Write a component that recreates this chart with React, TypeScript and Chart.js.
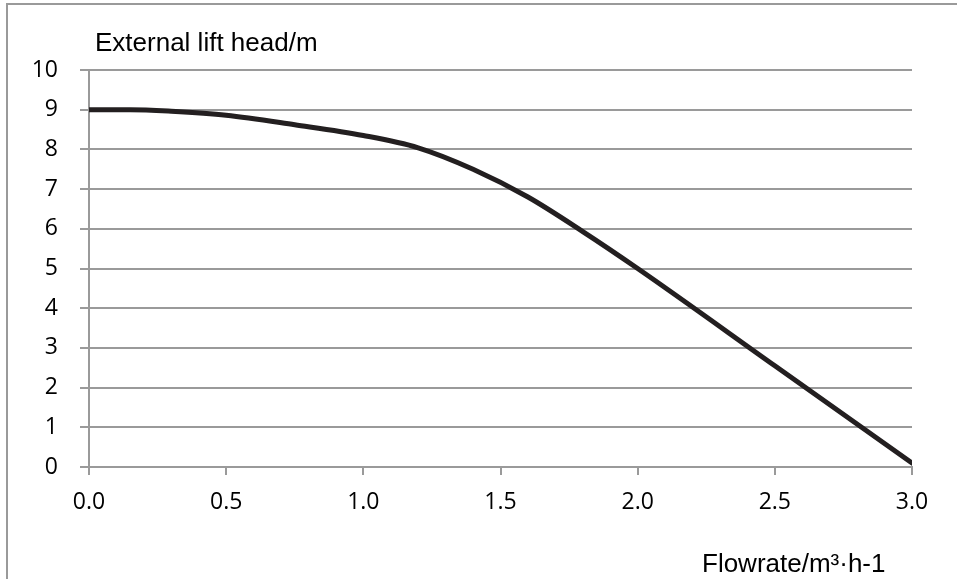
import React, { useEffect, useRef } from "react";
import { Chart, registerables } from "chart.js";

Chart.register(...registerables);

const flowrate = [0, 0.15, 0.3, 0.5, 0.75, 1.0, 1.2, 1.4, 1.6, 1.8, 2.0, 2.5, 3.0];
const liftHead = [9.0, 9.0, 8.96, 8.86, 8.62, 8.35, 8.04, 7.5, 6.8, 5.93, 5.0, 2.55, 0.1];
const yTitle = "External lift head/m";
const xTitle = "Flowrate/m³·h-1";

const GRID = "#9a9a9a";
const TICK_FONT = "'Open Sans', sans-serif";
const TITLE_FONT = "'Liberation Sans', Arial, sans-serif";

const framePlugin = {
  id: "frame",
  afterDraw(chart: any) {
    const ctx = chart.ctx;
    ctx.save();
    ctx.strokeStyle = GRID;
    ctx.lineWidth = 2;
    ctx.beginPath();
    ctx.moveTo(7, 579);
    ctx.lineTo(7, 4);
    ctx.lineTo(957, 4);
    ctx.stroke();
    ctx.fillStyle = "#000";
    ctx.textBaseline = "alphabetic";
    ctx.textAlign = "left";
    ctx.font = `26px ${TITLE_FONT}`;
    ctx.fillText(yTitle, 95, 51);
    ctx.fillText(xTitle, 702, 572);
    ctx.restore();
  },
};

export default function App() {
  const ref = useRef<HTMLCanvasElement>(null);
  useEffect(() => {
    if (!ref.current) return;
    const chart = new Chart(ref.current, {
      type: "line",
      data: {
        datasets: [
          {
            data: flowrate.map((x, i) => ({ x, y: liftHead[i] })),
            borderColor: "#231f20",
            borderWidth: 5,
            borderCapStyle: "round",
            pointRadius: 0,
            cubicInterpolationMode: "monotone",
            fill: false,
          },
        ],
      },
      options: {
        responsive: false,
        animation: false,
        devicePixelRatio: 1,
        layout: { padding: { left: 0, top: 70, right: 45, bottom: 0 } },
        plugins: { legend: { display: false }, tooltip: { enabled: false }, title: { display: false } },
        scales: {
          x: {
            type: "linear",
            min: 0,
            max: 3,
            afterFit: (s: any) => { s.height = 112; },
            ticks: {
              stepSize: 0.5,
              callback: (v: any) => Number(v).toFixed(1),
              color: "#000",
              font: { family: TICK_FONT, size: 23 },
              padding: 14,
              maxRotation: 0,
            },
            grid: { drawOnChartArea: false, drawTicks: true, tickLength: 8, color: GRID, lineWidth: 2 },
            border: { display: true, color: GRID, width: 2 },
          },
          y: {
            min: 0,
            max: 10,
            afterFit: (s: any) => { s.width = 89; },
            ticks: {
              stepSize: 1,
              color: "#000",
              font: { family: TICK_FONT, size: 23 },
              padding: 22,
            },
            grid: { color: GRID, lineWidth: 2, tickLength: 9 },
            border: { display: true, color: GRID, width: 2 },
          },
        },
      },
      plugins: [framePlugin],
    });
    return () => chart.destroy();
  }, []);
  return (
    <div style={{ position: "absolute", left: 0, top: 0, width: 957, height: 579, background: "#fff" }}>
      <canvas ref={ref} width={957} height={579} style={{ display: "block", width: 957, height: 579 }} />
    </div>
  );
}
